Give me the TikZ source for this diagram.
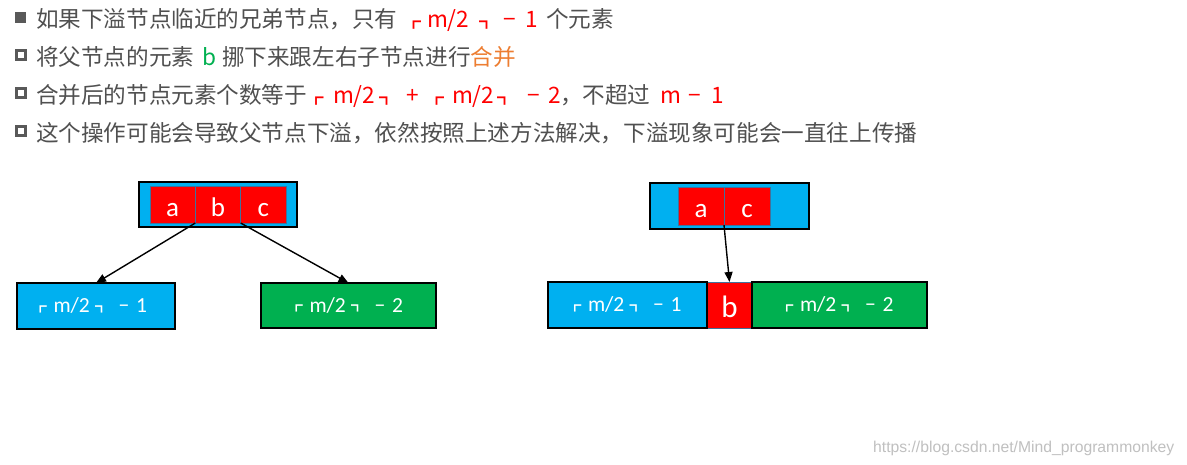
\documentclass[tikz,border=0pt]{standalone}
\usepackage{fontspec}
\setmainfont{Carlito}
\newfontfamily\cjk{Noto Sans CJK SC}
\newfontfamily\lib{Liberation Sans}
\usetikzlibrary{arrows.meta}
\definecolor{txt}{HTML}{505050}
\definecolor{myred}{HTML}{FF0000}
\definecolor{mygreen}{HTML}{00B050}
\definecolor{myblue}{HTML}{00B0F0}
\definecolor{myorange}{HTML}{ED7D31}
\definecolor{cellborder}{HTML}{41719C}
\definecolor{urlgray}{HTML}{C0C0C0}
\definecolor{bulletgray}{HTML}{595959}
\newcommand{\lbr}[2]{{\cjk\fontsize{#1}{#1}\selectfont\raisebox{#2}{┏}}}
\newcommand{\rbr}[2]{{\cjk\fontsize{#1}{#1}\selectfont\raisebox{#2}{┓}}}
% label inside a box: #1 box node, #2 x offset of the label centre, #3 last digit
\newcommand{\boxlabel}[3]{%
  \node[lbl] (#1-t1) at ([xshift=#2pt-60.2pt, yshift=-6.5pt]#1.center) {\lbr{13}{1.3pt}};
  \node[lbl] (#1-t2) at ([xshift=#2pt-40.5pt, yshift=-6.5pt]#1.center) {m/2};
  \node[lbl] (#1-t3) at ([xshift=#2pt+1pt, yshift=-6.5pt]#1.center) {\rbr{13}{1.3pt}};
  \node[lbl] (#1-t4) at ([xshift=#2pt+24.5pt, yshift=-6.5pt]#1.center) {−};
  \node[lbl] (#1-t5) at ([xshift=#2pt+42pt, yshift=-6.5pt]#1.center) {#3};
}
\tikzset{
  cjktext/.style={inner sep=0pt, outer sep=0pt, anchor=base west, text=txt,
    font=\cjk\fontsize{22.6}{27}\selectfont},
  redtext/.style={cjktext, text=myred},
  outerbox/.style={draw=black, line width=1.1pt, inner sep=0pt, outer sep=0pt},
  cellbox/.style={draw=cellborder, line width=0.8pt, fill=myred, text=white,
    inner sep=0pt, outer sep=0pt, font=\fontsize{27}{27}\selectfont,
    text height=23pt, text depth=0pt},
  lbl/.style={inner sep=0pt, outer sep=0pt, anchor=base west, text=white,
    font=\fontsize{21.5}{21.5}\selectfont},
  link/.style={-{Triangle[length=10pt,width=8pt]}, line width=1.4pt, black},
  fullbullet/.style={fill=bulletgray, inner sep=0pt, minimum size=11.5pt},
  hollowbullet/.style={draw=bulletgray, fill=white, line width=3pt, inner sep=0pt, minimum size=9pt}
}
\begin{document}
\begin{tikzpicture}[x=1pt,y=-1pt]
\useasboundingbox (0,0) rectangle (1187,464);
\fill[white] (0,0) rectangle (1187,464);

% bullets
\node[fullbullet] (bu1) at (20.5,17.5) {};
\node[hollowbullet] (bu2) at (21,55) {};
\node[hollowbullet] (bu3) at (21,92.5) {};
\node[hollowbullet] (bu4) at (21,131) {};

% line 1
\node[cjktext] (t1a) at (36,27) {如果下溢节点临近的兄弟节点，只有};
\node[redtext] (t1b) at (406,27) {\lbr{15}{0pt}};
\node[redtext] (t1c) at (427,27) {m/2};
\node[redtext] (t1d) at (479,27) {\rbr{15}{0pt}};
\node[redtext] (t1e) at (503,27) {−};
\node[redtext] (t1f) at (525,27) {1};
\node[cjktext] (t1g) at (546,27) {个元素};

% line 2
\node[cjktext] (t2a) at (36,65) {将父节点的元素};
\node[cjktext, text=mygreen] (t2b) at (202,65) {b};
\node[cjktext] (t2c) at (222,65) {挪下来跟左右子节点进行\textcolor{myorange}{合并}};

% line 3
\node[cjktext] (t3a) at (36,103) {合并后的节点元素个数等于};
\node[redtext] (t3b) at (308.5,103) {\lbr{15}{0pt}};
\node[redtext] (t3c) at (333,103) {m/2};
\node[redtext] (t3d) at (379,103) {\rbr{15}{0pt}};
\node[redtext] (t3e) at (406,103) {+};
\node[redtext] (t3f) at (429,103) {\lbr{15}{0pt}};
\node[redtext] (t3g) at (452,103) {m/2};
\node[redtext] (t3h) at (497,103) {\rbr{15}{0pt}};
\node[redtext] (t3i) at (527,103) {−};
\node[redtext] (t3j) at (548,103) {2};
\node[cjktext] (t3k) at (560,103) {，不超过};
\node[redtext] (t3l) at (660,103) {m};
\node[redtext] (t3m) at (688,103) {−};
\node[redtext] (t3n) at (711,103) {1};

% line 4
\node[cjktext] (t4a) at (36,141) {这个操作可能会导致父节点下溢，依然按照上述方法解决，下溢现象可能会一直往上传播};

% left diagram
\node[outerbox, fill=myblue, minimum width=158pt, minimum height=45pt] (lp) at (218,204.5) {};
\node[cellbox, minimum width=45.3pt, minimum height=37pt] (la) at (172.7,204.5) {a};
\node[cellbox, minimum width=45.3pt, minimum height=37pt] (lb) at (218,204.5) {b};
\node[cellbox, minimum width=45.3pt, minimum height=37pt] (lc) at (263.3,204.5) {c};
\node[outerbox, fill=myblue, minimum width=158pt, minimum height=46pt] (lleft) at (96,306) {};
\node[outerbox, fill=mygreen, minimum width=175pt, minimum height=45pt] (lright) at (348.5,305.5) {};
\boxlabel{lleft}{-2}{1}
\boxlabel{lright}{1.5}{2}
\draw[link] (la.south east) -- (lleft.north);
\draw[link] (lc.south west) -- (lright.north);

% right diagram
\node[outerbox, fill=myblue, minimum width=159pt, minimum height=46pt] (rp) at (729.5,206) {};
\node[cellbox, text height=22pt, minimum width=46pt, minimum height=38pt] (ra) at (701,206) {a};
\node[cellbox, text height=22pt, minimum width=46pt, minimum height=38pt] (rc) at (747,206) {c};
\node[cellbox, font=\fontsize{31}{31}\selectfont, text height=24pt, minimum width=45pt, minimum height=46pt] (rb) at (729.5,305) {b};
\node[outerbox, fill=myblue, minimum width=159pt, minimum height=46pt] (rleft) at (627.5,305) {};
\node[outerbox, fill=mygreen, minimum width=175pt, minimum height=46pt] (rright) at (839.5,305) {};
\boxlabel{rleft}{1}{1}
\boxlabel{rright}{1}{2}
\draw[link] (ra.south east) -- (rb.north);

% url
\node[inner sep=0pt, anchor=base west, text=urlgray, font=\lib\fontsize{15.7}{16}\selectfont] (url) at (873,452) {https://blog.csdn.net/Mind\_programmonkey};
\end{tikzpicture}
\end{document}
